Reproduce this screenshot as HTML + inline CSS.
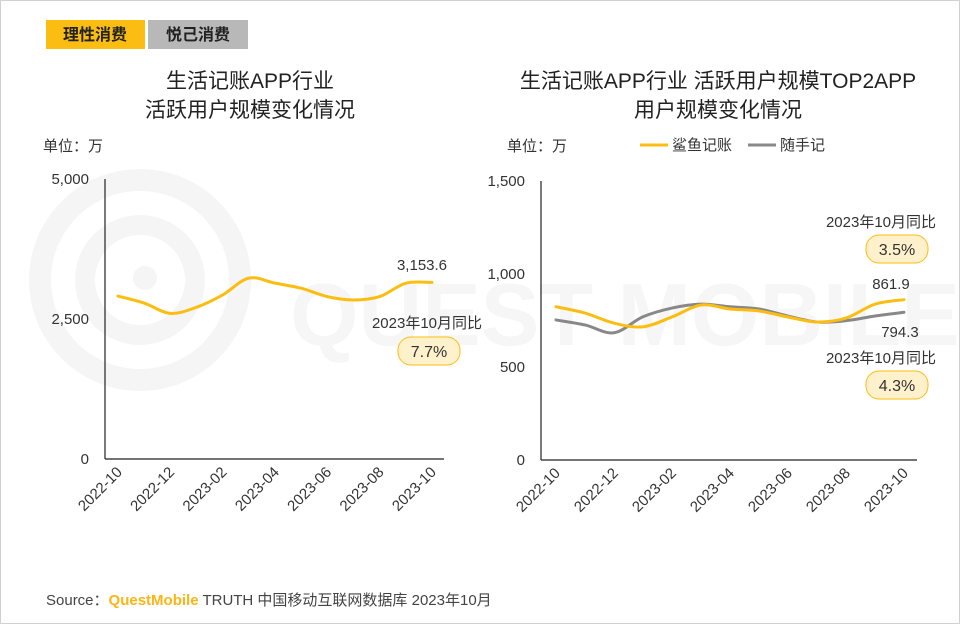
<!DOCTYPE html>
<html><head><meta charset="utf-8"><style>
html,body{margin:0;padding:0;background:#fff}
svg{display:block;font-family:"Liberation Sans","Noto Sans CJK SC",sans-serif}
</style></head><body>
<svg id="s" width="960" height="624" viewBox="0 0 960 624">
<rect x="0.5" y="0.5" width="959" height="623" fill="#fff" stroke="#d0d0d0"/>
<g fill="none" stroke="#f5f5f5">
<circle cx="140" cy="280" r="100" stroke-width="22"/>
<circle cx="140" cy="280" r="55" stroke-width="20"/>
<circle cx="145" cy="278" r="12" fill="#f5f5f5" stroke="none"/>
<text x="290" y="345" font-size="88" fill="#f6f6f6" stroke="none" font-weight="bold">QUEST MOBILE</text>
</g>
<rect x="46" y="20" width="99" height="29" fill="#fcbd12"/>
<text x="95" y="40" font-size="16" font-weight="bold" text-anchor="middle" fill="#222">理性消费</text>
<rect x="148" y="20" width="100" height="29" fill="#b8b8b8"/>
<text x="198" y="40" font-size="16" font-weight="bold" text-anchor="middle" fill="#222">悦己消费</text>
<text x="250" y="88" font-size="21" text-anchor="middle" fill="#222">生活记账APP行业</text>
<text x="250" y="117" font-size="21" text-anchor="middle" fill="#222">活跃用户规模变化情况</text>
<text x="43" y="151" font-size="15" fill="#333">单位：万</text>
<text x="718" y="88" font-size="21" text-anchor="middle" fill="#222">生活记账APP行业 活跃用户规模TOP2APP</text>
<text x="718" y="117" font-size="21" text-anchor="middle" fill="#222">用户规模变化情况</text>
<text x="507" y="151" font-size="15" fill="#333">单位：万</text>
<g>
<line x1="640" y1="145" x2="668" y2="145" stroke="#fcbd12" stroke-width="3"/>
<text x="672" y="150" font-size="15" fill="#333">鲨鱼记账</text>
<line x1="748" y1="145" x2="776" y2="145" stroke="#888" stroke-width="3"/>
<text x="780" y="150" font-size="15" fill="#333">随手记</text>
</g>
<g id="L"></g><g id="R"></g>
<text x="46" y="605" font-size="15" fill="#444">Source：<tspan fill="#fcb514" font-weight="bold">QuestMobile</tspan> TRUTH 中国移动互联网数据库 2023年10月</text>
</svg>
<script>
const months=["2022-10","2022-11","2022-12","2023-01","2023-02","2023-03","2023-04","2023-05","2023-06","2023-07","2023-08","2023-09","2023-10"];
const industryValues=[2910,2785,2600,2710,2930,3230,3140,3050,2900,2840,2900,3140,3153.6];
const leftTicks=[0,2500,5000];
const sharkValues=[824,790,736,716,769,833,812,801,769,742,763,838,861.9];
const suishoujiValues=[753,726,684,770,817,838,824,812,774,742,749,774,794.3];
const rightTicks=[0,500,1000,1500];
const NS="http://www.w3.org/2000/svg";
function mk(p,tag,at,txt){const e=document.createElementNS(NS,tag);for(const k in at)e.setAttribute(k,at[k]);if(txt!==undefined)e.textContent=txt;p.appendChild(e);return e;}
function smooth(pts){let d="M"+pts[0][0]+","+pts[0][1];for(let i=0;i<pts.length-1;i++){const p0=pts[Math.max(i-1,0)],p1=pts[i],p2=pts[i+1],p3=pts[Math.min(i+2,pts.length-1)];const t=6;d+=" C"+(p1[0]+(p2[0]-p0[0])/t)+","+(p1[1]+(p2[1]-p0[1])/t)+" "+(p2[0]-(p3[0]-p1[0])/t)+","+(p2[1]-(p3[1]-p1[1])/t)+" "+p2[0]+","+p2[1];}return d;}
function chart(g,o){
 const y=v=>o.y0-(v/o.max)*(o.y0-o.y1);
 const x=i=>o.xf+i*(o.xl-o.xf)/(months.length-1);
 const a=mk(g,"line",{x1:o.ax,y1:o.y1,x2:o.ax,y2:o.y0,stroke:"#222","stroke-width":1.2});
 
 const b=mk(g,"line",{x1:o.ax,y1:o.y0,x2:o.axe,y2:o.y0,stroke:"#222","stroke-width":1.2});
 
 o.ticks.forEach(t=>{const e=mk(g,"text",{x:o.ax-16,y:y(t)+5,"font-size":15,"text-anchor":"end",fill:"#333"},t.toLocaleString("en-US"));
  });
 months.forEach((m,i)=>{if(i%2)return;const xx=x(i),yy=o.y0+14;const e=mk(g,"text",{x:xx+5,y:yy,"font-size":15,"text-anchor":"end",fill:"#333",transform:"rotate(-45 "+(xx+5)+" "+yy+")"},m);
  });
 o.series.forEach(s=>{const pts=s.v.map((v,i)=>[x(i),y(v)]);
  const p=mk(g,"path",{d:smooth(pts),fill:"none",stroke:s.c,"stroke-width":3,"stroke-linecap":"round"});
  });
}
chart(document.getElementById("L"),{ax:105,axe:444,y0:459,y1:179,max:5000,xf:118,xl:432,ticks:leftTicks,series:[{v:industryValues,c:"#fcbd12",n:"industry-line"}]});
chart(document.getElementById("R"),{ax:541,axe:917,y0:460,y1:181,max:1500,xf:556,xl:904,ticks:rightTicks,series:[{v:suishoujiValues,c:"#888",n:"suishouji-line"},{v:sharkValues,c:"#fcbd12",n:"shark-line"}]});
function ann(x,y,t,n){const e=mk(document.getElementById("s"),"text",{x:x,y:y,"font-size":15,"text-anchor":"middle",fill:"#333"},t);}
function pill(cx,cy,t,n){const s=document.getElementById("s");const r=mk(s,"rect",{x:cx-31,y:cy-14,width:62,height:28,rx:13,fill:"#fff1cc",stroke:"#fcbd12"});
 const e=mk(s,"text",{x:cx,y:cy+6,"font-size":16,"text-anchor":"middle",fill:"#333"},t);}
ann(422,270,industryValues[12].toLocaleString("en-US",{minimumFractionDigits:1}),"industry-last-value");
ann(427,328,"2023年10月同比","left-yoy-label");
pill(429,351,"7.7%","left-yoy-pill");
ann(881,227,"2023年10月同比","shark-yoy-label");
pill(897,249,"3.5%","shark-yoy-pill");
ann(891,289,String(sharkValues[12]),"shark-last-value");
ann(900,337,String(suishoujiValues[12]),"suishouji-last-value");
ann(881,363,"2023年10月同比","suishouji-yoy-label");
pill(897,385,"4.3%","suishouji-yoy-pill");
</script>
</body></html>
